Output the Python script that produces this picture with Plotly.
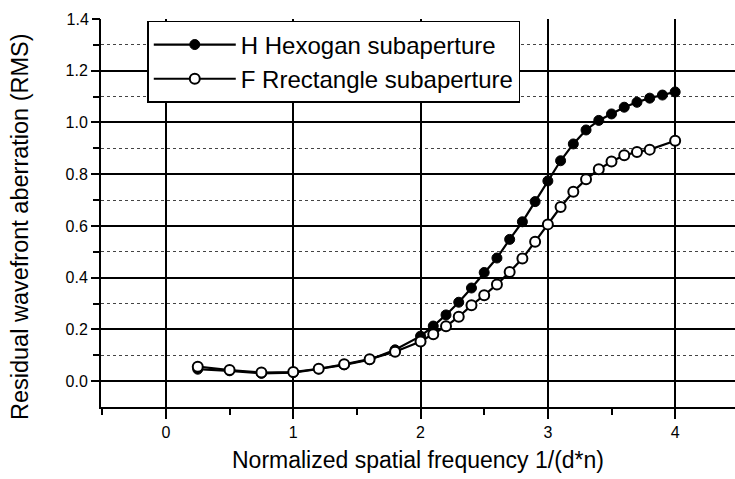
import plotly.graph_objects as go

hex_x = [0.25, 0.5, 0.75, 1.0, 1.2, 1.4, 1.6, 1.8, 2.0, 2.1, 2.2, 2.3, 2.4, 2.5, 2.6, 2.7, 2.8, 2.9,
         3.0, 3.1, 3.2, 3.3, 3.4, 3.5, 3.6, 3.7, 3.8, 3.9, 4.0]
hex_y = [0.046, 0.040, 0.030, 0.033, 0.047, 0.063, 0.083, 0.121, 0.174, 0.213, 0.256, 0.305, 0.360,
         0.420, 0.476, 0.548, 0.616, 0.694, 0.774, 0.852, 0.917, 0.971, 1.008, 1.033, 1.059, 1.078,
         1.094, 1.106, 1.118]

rect_x = [0.25, 0.5, 0.75, 1.0, 1.2, 1.4, 1.6, 1.8, 2.0, 2.1, 2.2, 2.3, 2.4, 2.5, 2.6, 2.7, 2.8, 2.9,
          3.0, 3.1, 3.2, 3.3, 3.4, 3.5, 3.6, 3.7, 3.8, 4.0]
rect_y = [0.056, 0.043, 0.033, 0.035, 0.048, 0.065, 0.085, 0.114, 0.153, 0.181, 0.212, 0.249, 0.293,
          0.332, 0.374, 0.422, 0.474, 0.539, 0.606, 0.673, 0.732, 0.780, 0.819, 0.849, 0.873, 0.886,
          0.895, 0.929]

x_ticks = [0, 1, 2, 3, 4]
x_minor = [-0.5, 0.5, 1.5, 2.5, 3.5]
y_ticks = [0.0, 0.2, 0.4, 0.6, 0.8, 1.0, 1.2]
y_ticklabels = ["0.0", "0.2", "0.4", "0.6", "0.8", "1.0", "1.2"]
y_top_tick = [1.4]
y_top_label = ["1.4"]
y_minor = [0.1, 0.3, 0.5, 0.7, 0.9, 1.1, 1.3]

FONT = "Liberation Sans, Arial, Helvetica, sans-serif"

fig = go.Figure()
fig.add_trace(go.Scatter(
    x=hex_x, y=hex_y, mode="lines+markers", name="H Hexogan subaperture",
    line=dict(color="black", width=2.2),
    marker=dict(symbol="circle", size=10, color="black", line=dict(color="black", width=1)),
))
fig.add_trace(go.Scatter(
    x=rect_x, y=rect_y, mode="lines+markers", name="F Rrectangle subaperture",
    line=dict(color="black", width=2.2),
    marker=dict(symbol="circle", size=10, color="white", line=dict(color="black", width=2)),
))
fig.add_trace(go.Scatter(x=[None], y=[None], yaxis="y2", showlegend=False, hoverinfo="skip"))

fig.update_layout(
    width=735, height=479,
    margin=dict(l=101, r=0, t=19, b=72),
    paper_bgcolor="white", plot_bgcolor="white",
    font=dict(family=FONT, color="black"),
    showlegend=True,
    legend=dict(
        x=0.073, y=0.995, xanchor="left", yanchor="top",
        bgcolor="white", bordercolor="black", borderwidth=1.5,
        font=dict(size=24, family=FONT, color="black"),
        itemwidth=82, tracegroupgap=0,
    ),
    xaxis=dict(
        range=[-0.51, 4.47], tickvals=x_ticks, ticktext=[str(v) for v in x_ticks],
        showgrid=True, gridcolor="black", gridwidth=1.5,
        zeroline=False, showline=True, linecolor="black", linewidth=2,
        ticks="outside", ticklen=10, tickwidth=2, tickcolor="black",
        tickfont=dict(size=16, family=FONT),
        minor=dict(tickvals=x_minor, ticks="outside", ticklen=6, tickwidth=2, tickcolor="black", showgrid=False),
        title=dict(text="Normalized spatial frequency 1/(d*n)", font=dict(size=23, family=FONT), standoff=12),
    ),
    yaxis=dict(
        range=[-0.1, 1.4], tickvals=y_ticks, ticktext=y_ticklabels,
        showgrid=True, gridcolor="black", gridwidth=1.5,
        zeroline=False, showline=True, linecolor="black", linewidth=2,
        ticks="outside", ticklen=8, tickwidth=2, tickcolor="black",
        tickfont=dict(size=16, family=FONT),
        minor=dict(tickvals=y_minor, ticks="outside", ticklen=6, tickwidth=2, tickcolor="black",
                   showgrid=True, gridcolor="#444444", gridwidth=1, griddash="dot"),
    ),
    yaxis2=dict(
        overlaying="y", side="left", anchor="x", range=[-0.1, 1.4],
        tickvals=y_top_tick, ticktext=y_top_label,
        showgrid=False, zeroline=False, showline=False,
        ticks="outside", ticklen=8, tickwidth=2, tickcolor="black",
        tickfont=dict(size=16, family=FONT),
    ),
    annotations=[dict(
        text="Residual wavefront aberration (RMS)", textangle=-90,
        xref="paper", yref="paper", x=-0.128, y=0.466, xanchor="center", yanchor="middle",
        showarrow=False, font=dict(size=23.5, family=FONT, color="black"),
    )],
)

fig.write_html("out.html")
